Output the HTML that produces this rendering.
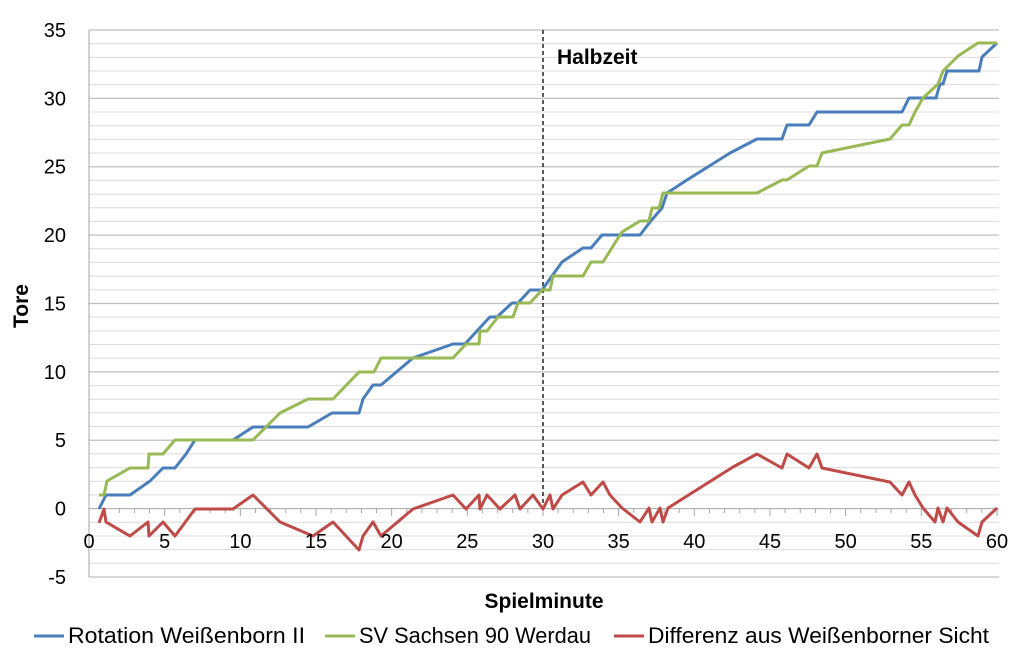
<!DOCTYPE html>
<html><head><meta charset="utf-8"><style>
html,body{margin:0;padding:0;background:#fff;}
svg{display:block;font-family:"Liberation Sans",sans-serif;}
</style></head><body>
<svg id="c" width="1024" height="665" viewBox="0 0 1024 665" xmlns="http://www.w3.org/2000/svg">
<g id="grid"></g>
<line x1="89" y1="30" x2="89" y2="577" stroke="#a6a6a6" stroke-width="1"/>
<line x1="89" y1="508.6" x2="999" y2="508.6" stroke="#a6a6a6" stroke-width="1"/>
<g id="ticks"></g>
<line x1="543" y1="30" x2="543" y2="508" stroke="#000" stroke-width="1.3" stroke-dasharray="4,3"/>
<text x="557" y="64" font-size="21" font-weight="bold">Halbzeit</text>
<polyline fill="none" stroke="#4a7ebb" stroke-width="3" stroke-linejoin="round" points="99,509 106,495 130,495 150,481 163,468 175,468 186,454 195,440 233,440 253,427 308,427 332,413 359,413 363,399 373,385 381,385 413,358 453,344 465,344 487,320 490,317 497,317 512,303 518,303 530,290 542,290 552,276 562,262 583,248 591,248 602,235 640,235 650,222 662,208 667,193 687,180 730,153 757,139 782,139 787,125 809,125 817,112 902,112 909,98 936,98 940,84 943,84 947,71 979,71 982,57 997,43"/>
<polyline fill="none" stroke="#98b954" stroke-width="3" stroke-linejoin="round" points="99,495 104,495 107,481 130,468 148,468 149,454 163,454 175,440 253,440 280,413 308,399 333,399 359,372 374,372 381,358 453,358 466,344 479,344 480,331 487,331 498,317 513,317 518,303 530,303 542,290 550,290 553,276 583,276 591,262 603,262 620,235 622,232 640,221 649,221 652,208 659,208 663,193 757,193 782,180 787,180 809,166 817,166 822,153 890,139 902,125 909,125 915,112 923,98 938,84 943,71 958,56 978,43 997,43"/>
<polyline fill="none" stroke="#be4b48" stroke-width="3" stroke-linejoin="round" points="99,523 104,509 106,522 130,536 148,522 149,536 163,522 175,536 195,509 233,509 253,495 280,522 313,536 333,522 359,550 363,536 373,522 381,536 413,509 453,495 466,509 479,495 480,509 487,495 500,509 515,495 520,509 533,495 543,509 550,495 553,509 562,495 583,482 591,495 603,482 610,495 622,508 640,522 649,508 652,522 660,508 663,522 668,508 733,467 757,454 782,468 787,454 809,468 817,454 822,468 890,482 902,495 909,482 915,495 923,508 935,522 938,508 943,522 947,508 958,522 978,536 982,522 997,508"/>
<g id="ylab" font-size="20" text-anchor="end"></g>
<g id="xlab" font-size="20" text-anchor="middle"></g>
<text x="28" y="306" font-size="21" font-weight="bold" text-anchor="middle" transform="rotate(-90 28 306)">Tore</text>
<text x="544" y="608" font-size="21" font-weight="bold" text-anchor="middle">Spielminute</text>
<g font-size="22">
<line x1="34" y1="636" x2="64" y2="636" stroke="#4a7ebb" stroke-width="3"/>
<text x="68" y="643" textLength="237" lengthAdjust="spacingAndGlyphs">Rotation Weißenborn II</text>
<line x1="325" y1="636" x2="355" y2="636" stroke="#98b954" stroke-width="3"/>
<text x="359" y="643" textLength="232" lengthAdjust="spacingAndGlyphs">SV Sachsen 90 Werdau</text>
<line x1="614" y1="636" x2="644" y2="636" stroke="#be4b48" stroke-width="3"/>
<text x="648" y="643" textLength="341" lengthAdjust="spacingAndGlyphs">Differenz aus Weißenborner Sicht</text>
</g>
</svg>
<script>
var ns="http://www.w3.org/2000/svg";
function el(p,t,a,txt){var e=document.createElementNS(ns,t);for(var k in a)e.setAttribute(k,a[k]);if(txt!=null)e.textContent=txt;document.getElementById(p).appendChild(e);}
var u=13.675;
for(var v=-5;v<=35;v++){var y=508.6-v*u;if(v==0)continue;el("grid","line",{x1:89,x2:999,y1:y,y2:y,stroke:(v%5==0?"#bfbfbf":"#dcdcdc"),"stroke-width":(v%5==0?1.3:1)});}
for(var v=-5;v<=35;v+=5){el("ylab","text",{x:66,y:508.6-v*u+7},String(v));}
for(var m=0;m<=60;m++){var x=89+m*15.133;el("ticks","line",{x1:x,x2:x,y1:508.6,y2:(m%5==0?516:513),stroke:"#a6a6a6","stroke-width":1});
if(m%5==0)el("xlab","text",{x:x,y:548},String(m));}
</script>
</body></html>
